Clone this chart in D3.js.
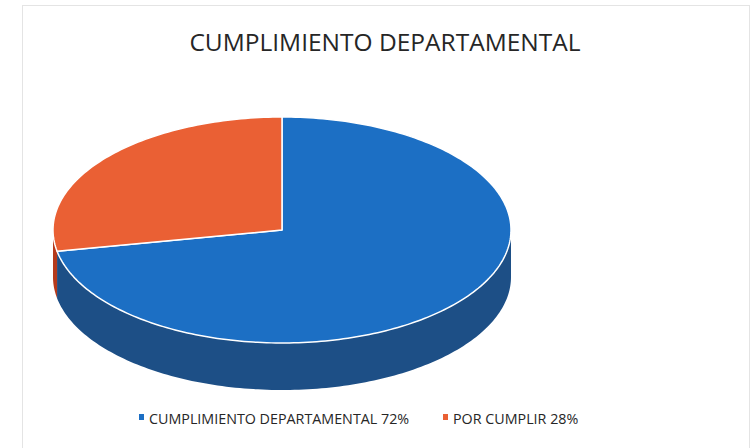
<!DOCTYPE html>
<html lang="es">
<head>
    <meta charset="UTF-8">
    <title>Cumplimiento Departamental</title>
    <style>
        body {
            margin: 0;
            padding: 0;
            background-color: #fff;
            font-family: "Open Sans", Arial, sans-serif;
        }
    </style>
</head>
<body>

<svg width="755" height="448" id="chart"></svg>

<script src="https://d3js.org/d3.v7.min.js"></script>
<script>
    // data
    const categories = ["CUMPLIMIENTO DEPARTAMENTAL", "POR CUMPLIR"];
    const values = [72, 28];
    const legendLabels = ["CUMPLIMIENTO DEPARTAMENTAL 72%", "POR CUMPLIR 28%"];
    const topColors = ["#1c6fc4", "#ea6034"];
    const sideColors = ["#1d4f86", "#b53a1c"];

    const svg = d3.select("#chart");

    // frame
    svg.append("rect")
        .attr("x", 22.5).attr("y", 5.5)
        .attr("width", 727).attr("height", 450)
        .attr("fill", "#fff")
        .attr("stroke", "#e4e4e4")
        .attr("stroke-width", 1);

    // title
    svg.append("text")
        .attr("x", 385)
        .attr("y", 51)
        .attr("text-anchor", "middle")
        .attr("font-size", 24.5)
        .attr("fill", "#262626")
        .text("CUMPLIMIENTO DEPARTAMENTAL");

    // 3D pie geometry
    const cx = 282, cy = 230, rx = 229, ry = 113, depth = 47;

    const pie = d3.pie().sort(null).value(d => d);
    const arcs = pie(values);

    // point on the top ellipse, angle clockwise from 12 o'clock
    const pt = (a, dy = 0) => [cx + rx * Math.sin(a), cy - ry * Math.cos(a) + dy];

    function ellipsePoints(a0, a1, dy) {
        const n = Math.max(2, Math.ceil(Math.abs(a1 - a0) / 0.02));
        const pts = [];
        for (let i = 0; i <= n; i++) {
            pts.push(pt(a0 + (a1 - a0) * i / n, dy));
        }
        return pts;
    }

    const line = d3.line();

    // side walls (front half only: PI/2 .. 3PI/2)
    const sides = svg.append("g");
    arcs.forEach((d, i) => {
        const s = Math.max(d.startAngle, Math.PI / 2);
        const e = Math.min(d.endAngle, 3 * Math.PI / 2);
        if (e <= s) return;
        const topEdge = ellipsePoints(s, e, 0);
        const bottomEdge = ellipsePoints(e, s, depth);
        sides.append("path")
            .attr("d", line(topEdge.concat(bottomEdge)) + "Z")
            .attr("fill", sideColors[i]);
    });

    // top faces
    const tops = svg.append("g");
    arcs.forEach((d, i) => {
        const pts = [[cx, cy]].concat(ellipsePoints(d.startAngle, d.endAngle, 0));
        tops.append("path")
            .attr("d", line(pts) + "Z")
            .attr("fill", topColors[i])
            .attr("stroke", "#fff")
            .attr("stroke-width", 1.5)
            .attr("stroke-linejoin", "round");
    });

    // legend
    const legendX = [139, 443];
    const legend = svg.append("g");
    categories.forEach((c, i) => {
        legend.append("rect")
            .attr("x", legendX[i])
            .attr("y", 414)
            .attr("width", 5)
            .attr("height", 6)
            .attr("fill", topColors[i]);
        legend.append("text")
            .attr("x", legendX[i] + 10)
            .attr("y", 423.5)
            .attr("font-size", 14.3)
            .attr("fill", "#262626")
            .text(legendLabels[i]);
    });
</script>

</body>
</html>
